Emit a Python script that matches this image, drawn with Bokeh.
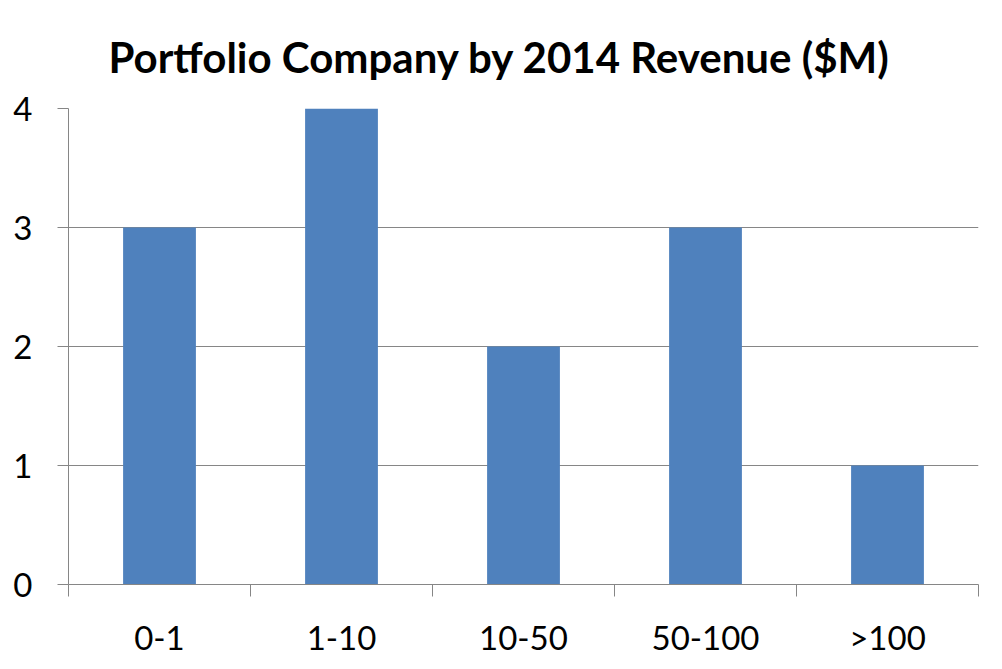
from bokeh.plotting import figure
from bokeh.models import Range1d, FixedTicker, ColumnDataSource, Title
from bokeh.embed import file_html
from bokeh.resources import INLINE

categories = ["0-1", "1-10", "10-50", "50-100", ">100"]
counts = [3, 4, 2, 3, 1]
y_ticks = [0, 1, 2, 3, 4]
title_text = "Portfolio Company by 2014 Revenue ($M)"

FONT = "Lato"
GRID = "#868686"
BAR = "#4F81BD"

xs = [i + 0.5 for i in range(len(categories))]
src = ColumnDataSource(dict(x=xs, top=counts, cat=categories))

p = figure(width=994, height=661, output_backend="svg", toolbar_location=None,
           x_range=Range1d(0, len(categories)), y_range=Range1d(0, 4),
           min_border_left=68, min_border_right=16, min_border_top=108, min_border_bottom=77)
p.outline_line_color = None
p.background_fill_color = "white"

p.title = Title(text=title_text, align="left", offset=40, standoff=54,
                text_font=FONT, text_font_style="bold", text_font_size="42px",
                text_color="black")

p.vbar(x="x", top="top", width=0.4, source=src, fill_color=BAR, line_color=None)

# x axis
xa = p.xaxis[0]
xa.ticker = FixedTicker(ticks=xs, minor_ticks=list(range(len(categories) + 1)))
xa.major_label_overrides = {x: c for x, c in zip(xs, categories)}
xa.major_tick_line_color = None
xa.major_tick_out = 0
xa.major_tick_in = 0
xa.minor_tick_line_color = GRID
xa.minor_tick_out = 12
xa.minor_tick_in = 0
xa.axis_line_color = GRID
xa.major_label_text_font = FONT
xa.major_label_text_font_size = "33px"
xa.major_label_text_color = "black"
xa.major_label_standoff = 20

# y axis
ya = p.yaxis[0]
ya.ticker = FixedTicker(ticks=y_ticks)
ya.major_tick_out = 11
ya.major_tick_in = 0
ya.minor_tick_line_color = None
ya.major_tick_line_color = GRID
ya.axis_line_color = GRID
ya.major_label_text_font = FONT
ya.major_label_text_font_size = "33px"
ya.major_label_text_color = "black"
ya.major_label_standoff = 25

p.xgrid.grid_line_color = None
p.ygrid.grid_line_color = GRID
p.ygrid.ticker = FixedTicker(ticks=y_ticks)

open("out.html", "w").write(file_html(p, INLINE))
